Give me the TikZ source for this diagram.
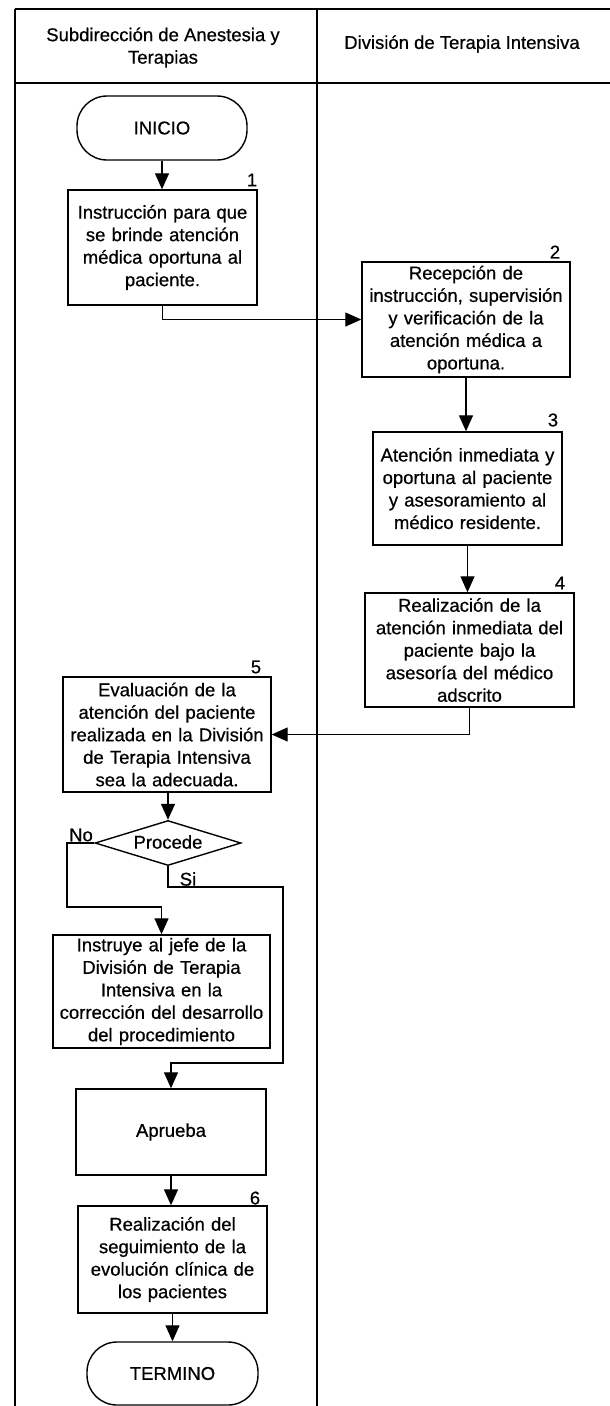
\documentclass[tikz,border=0pt]{standalone}
\usepackage{fontspec}
\setmainfont{Liberation Sans}[FakeBold=0.6,UprightFeatures={FakeBold=0.6}]
\usetikzlibrary{arrows.meta,shapes.geometric}
\begin{document}
\begin{tikzpicture}[x=1pt,y=-1pt,
  every node/.style={font=\fontsize{18.5}{22.5}\selectfont},
  proc/.style={draw,line width=1.4pt,align=center,inner sep=0pt},
  term/.style={draw,line width=1.4pt,rounded corners=30pt,inner sep=0pt,align=center},
  decis/.style={draw,line width=1.4pt,diamond,inner sep=0pt},
  num/.style={inner sep=0pt},
  flow/.style={line width=1.3pt,-{Triangle[length=16pt,width=14pt]}},
  lane/.style={line width=1.6pt}]
\useasboundingbox (0,0) rectangle (610,1406);
% frame
\draw[lane] (15,9) -- (610,9);
\draw[lane] (15,83) -- (610,83);
\draw[lane] (15,9) -- (15,1406);
\draw[lane] (317,9) -- (317,1406);
% headers
\node[align=center] (h1) at (163,47.5) {Subdirección de Anestesia y\\Terapias};
\node (h2) at (462,44) {División de Terapia Intensiva};
% nodes
\node[term,minimum width=170pt,minimum height=64pt] (t1) at (162,128) {INICIO};
\node[proc,minimum width=189pt,minimum height=115pt,text width=186pt] (b1) at (162.5,247.5)
  {Instrucción para que\\se brinde atención\\médica oportuna al\\paciente.};
\node[num] (n1) at (252,180) {1};
\node[proc,minimum width=208pt,minimum height=115pt,text width=206pt] (b2) at (466,319.5)
  {Recepción de\\instrucción, supervisión\\y verificación  de la\\atención médica a\\oportuna.};
\node[num] (n2) at (555,252) {2};
\node[proc,minimum width=189pt,minimum height=113pt,text width=186pt] (b3) at (467.5,488.5)
  {Atención inmediata y\\oportuna al paciente\\y asesoramiento al\\médico residente.};
\node[num] (n3) at (553,420) {3};
\node[proc,minimum width=209pt,minimum height=114pt,text width=206pt] (b4) at (469.5,650)
  {Realización de  la\\atención inmediata del\\paciente bajo la\\asesoría del médico\\adscrito};
\node[num] (n4) at (560,583) {4};
\node[proc,minimum width=208pt,minimum height=115pt,text width=206pt] (b5) at (167,734.5)
  {Evaluación de la\\atención del paciente\\realizada en la División\\de Terapia Intensiva\\sea la adecuada.};
\node[num] (n5) at (256,667) {5};
\node[decis,minimum width=146pt,minimum height=45pt] (d) at (168,843) {};
\node (dl) at (168,842) {Procede};
\node[num] (no) at (81,835) {No};
\node[num] (si) at (188,879) {Si};
\node[proc,minimum width=217pt,minimum height=113pt,text width=214pt] (b7) at (161.5,991.5)
  {Instruye al jefe de la\\División de Terapia\\Intensiva en la\\corrección del desarrollo\\del procedimiento};
\node[proc,minimum width=190pt,minimum height=86pt,text width=186pt] (ap) at (171,1132) {Aprueba};
\node[proc,minimum width=189pt,minimum height=107pt,text width=186pt] (b6) at (172.5,1259.5)
  {Realización del\\seguimiento de la\\evolución clínica de\\los pacientes};
\node[num] (n6) at (255,1198) {6};
\node[term,minimum width=171pt,minimum height=63pt] (t2) at (172.5,1373.5) {TERMINO};
% connectors
\coordinate (nA) at (67,907);
\coordinate (sA) at (283,887);
\coordinate (sB) at (283,1063);
\draw[flow] (t1.south) -- (t1.south |- b1.north);
\draw[flow] (b1.south) |- (b2.west);
\draw[flow] (b2.south) -- (b2.south |- b3.north);
\draw[flow] (b3.south) -- (b3.south |- b4.north);
\draw[flow] (b4.south) |- (b5.east);
\draw[flow] (b5.south -| d.north) -- (d.north);
\draw[flow] (d.west) -| (nA) -| (b7.north);
\draw[flow] (d.south) |- (sA) -- (sB) -| (ap.north);
\draw[flow] (ap.south) -- (ap.south |- b6.north);
\draw[flow] (b6.south) -- (b6.south |- t2.north);
\end{tikzpicture}
\end{document}
